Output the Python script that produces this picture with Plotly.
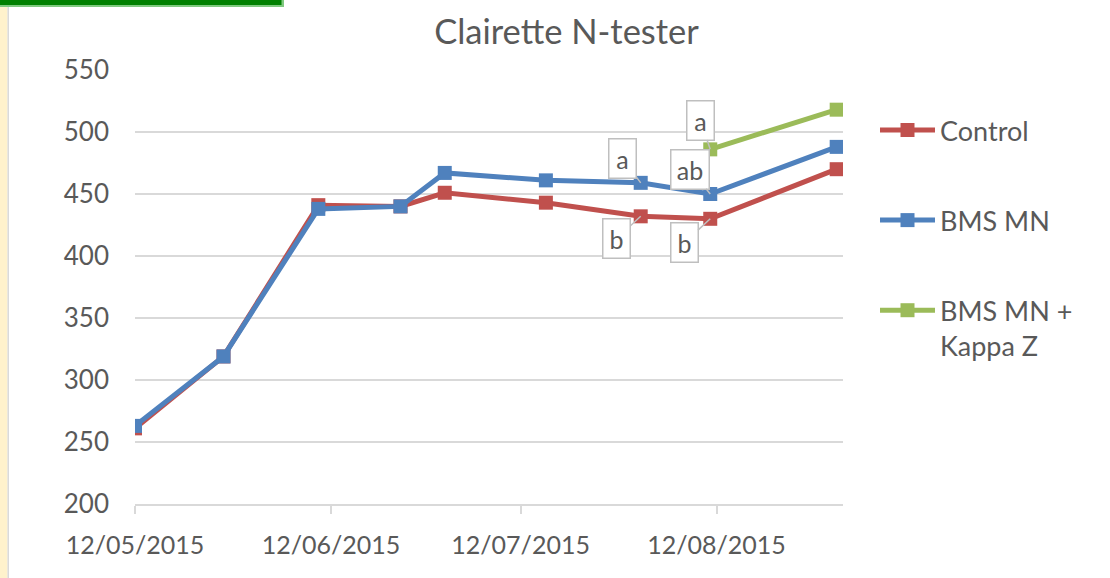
import plotly.graph_objects as go

# ---- data ----
dates = ["2015-05-12", "2015-05-26", "2015-06-10", "2015-06-23", "2015-06-30",
         "2015-07-16", "2015-07-31", "2015-08-11", "2015-08-31"]
control = [261, 319, 441, 440, 451, 443, 432, 430, 470]
bms_mn = [263, 319, 438, 440, 467, 461, 459, 450, 488]
kappa_dates = ["2015-08-11", "2015-08-31"]
kappa = [486, 518]

tick_dates = ["2015-05-12", "2015-06-12", "2015-07-12", "2015-08-12"]
tick_text = ["12/05/2015", "12/06/2015", "12/07/2015", "12/08/2015"]
y_ticks = [200, 250, 300, 350, 400, 450, 500, 550]

# significance letters: (series, date index, letter)
letters = [("bms", 6, "a"), ("control", 6, "b"),
           ("kappa", 0, "a"), ("bms", 7, "ab"), ("control", 7, "b")]

FONT = "Lato"
GREY = "#595959"
W, H = 1110, 578
ML, MR, MT, MB = 135, 267, 70, 73.5

def px_x(p):
    return (p - ML) / (W - ML - MR)

def px_y(p):
    return (H - MB - p) / (H - MT - MB)

fig = go.Figure()
fig.add_trace(go.Scatter(x=dates, y=control, name="Control", mode="lines+markers",
                         line=dict(color="#C0504D", width=5),
                         marker=dict(symbol="square", size=14, color="#C0504D"),
                         legendgroup="c"))
fig.add_trace(go.Scatter(x=dates, y=bms_mn, name="BMS MN", mode="lines+markers",
                         line=dict(color="#4F81BD", width=5),
                         marker=dict(symbol="square", size=14, color="#4F81BD"),
                         legendgroup="b"))
fig.add_trace(go.Scatter(x=kappa_dates, y=kappa, name="BMS MN +<br>Kappa Z", mode="lines+markers",
                         line=dict(color="#9BBB59", width=5),
                         marker=dict(symbol="square", size=14, color="#9BBB59"),
                         legendgroup="k"))

series = {"control": (dates, control), "bms": (dates, bms_mn), "kappa": (kappa_dates, kappa)}
offsets = [(-18, -24), (-24, 22), (-10, -29), (-20, -25), (-26, 24)]
for (s, i, txt), (ax, ay) in zip(letters, offsets):
    xs, ys = series[s]
    fig.add_annotation(x=xs[i], y=ys[i], text=txt, showarrow=True, ax=ax, ay=ay,
                       width=18 if len(txt) == 1 else 29,
                       arrowhead=0, arrowwidth=1.5, arrowcolor="#bfbfbf",
                       bordercolor="#bfbfbf", borderwidth=1.5, borderpad=4,
                       bgcolor="white", font=dict(family=FONT, size=25, color=GREY))

# decorations: yellow strip + green bar on the left/top
fig.add_shape(type="rect", xref="paper", yref="paper", x0=px_x(-2), x1=px_x(7.5),
              y0=px_y(H + 2), y1=px_y(6), fillcolor="#FFF2CC", line_width=0, layer="below")
fig.add_shape(type="line", xref="paper", yref="paper", x0=px_x(8.2), x1=px_x(8.2),
              y0=px_y(H + 2), y1=px_y(6), line=dict(color="#d9d9d9", width=1.5))
fig.add_shape(type="rect", xref="paper", yref="paper", x0=px_x(-2), x1=px_x(284),
              y0=px_y(7), y1=px_y(-2), fillcolor="#7fc97f", line_width=0)
fig.add_shape(type="rect", xref="paper", yref="paper", x0=px_x(-2), x1=px_x(281.5),
              y0=px_y(5), y1=px_y(-2), fillcolor="#008000", line_width=0)

fig.update_layout(
    width=W, height=H,
    margin=dict(l=ML, r=MR, t=MT, b=MB),
    paper_bgcolor="white", plot_bgcolor="white",
    font=dict(family=FONT, color=GREY),
    title=dict(text="Clairette N-tester", x=566.5 / W, xref="container", xanchor="center",
               y=1 - 32 / H, yref="container", yanchor="middle",
               font=dict(family=FONT, size=34.5, color=GREY)),
    xaxis=dict(type="date", range=["2015-05-12", "2015-09-01"],
               tickvals=tick_dates, ticktext=tick_text,
               showgrid=False, zeroline=False, showline=True, linecolor="#d9d9d9", linewidth=1.5,
               ticks="outside", ticklen=8, tickwidth=1.5, tickcolor="#d9d9d9",
               ticklabelstandoff=10,
               tickfont=dict(family=FONT, size=25, color=GREY)),
    yaxis=dict(range=[200, 550], tickvals=y_ticks, showgrid=True, gridcolor="#d9d9d9", gridwidth=1.5,
               zeroline=False, showline=False, ticks="", ticklabelstandoff=25,
               tickfont=dict(family=FONT, size=26, color=GREY)),
    legend=dict(x=px_x(875), y=px_y(106), xanchor="left", yanchor="top",
                font=dict(family=FONT, size=27, color=GREY), tracegroupgap=52,
                itemwidth=55, valign="top", bgcolor="rgba(0,0,0,0)"),
    showlegend=True,
)

fig.write_html("out.html", config={"displayModeBar": False},
               post_script="document.body.style.margin='0';document.body.style.overflow='hidden';")
